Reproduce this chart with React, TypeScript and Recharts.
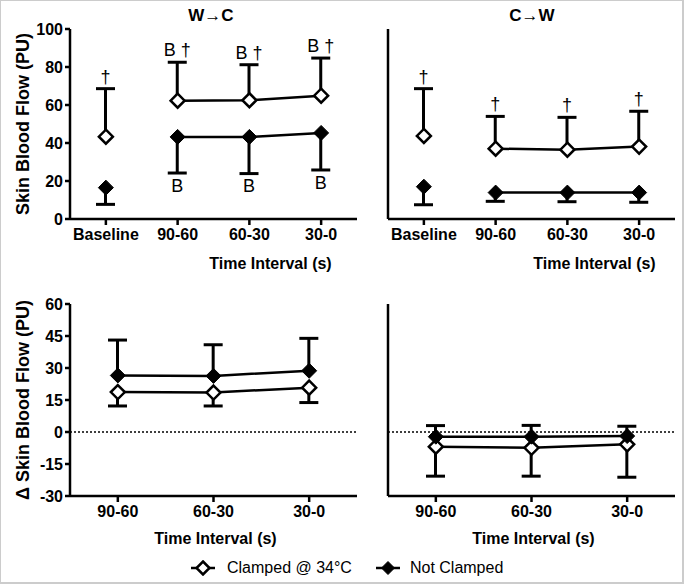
import { FC } from 'react'
import { Bar, ComposedChart, LabelList, Line, ReferenceLine, XAxis, YAxis } from 'recharts'

const topCategories = ['Baseline', '90-60', '60-30', '30-0']
const deltaCategories = ['90-60', '60-30', '30-0']

// W→C, skin blood flow (PU): means and one-sided SD
const wcClamped = [43.3, 62.3, 62.5, 64.9]
const wcClampedSd = [25.3, 20.2, 18.7, 19.8]
const wcNotClamped = [16.5, 43.2, 43.2, 45.3]
const wcNotClampedSd = [8.8, 19.0, 19.3, 19.5]
// non-breaking space keeps "B †" on one line
const wcClampedMarks = ['†', 'B\u00a0†', 'B\u00a0†', 'B\u00a0†']
const wcNotClampedMarks = ['', 'B', 'B', 'B']

// C→W
const cwClamped = [43.7, 37.0, 36.5, 38.1]
const cwClampedSd = [24.9, 17.0, 17.0, 18.6]
const cwNotClamped = [17.0, 13.9, 13.9, 13.9]
const cwNotClampedSd = [9.5, 4.6, 4.8, 5.1]
const cwClampedMarks = ['†', '†', '†', '†']
const cwNotClampedMarks = ['', '', '', '']

// change from baseline (PU)
const dWcClamped = [18.7, 18.5, 20.8]
const dWcClampedSd = [6.5, 6.3, 7.0]
const dWcNotClamped = [26.5, 26.3, 28.7]
const dWcNotClampedSd = [16.6, 14.6, 15.2]
const dCwClamped = [-6.9, -7.4, -5.8]
const dCwClampedSd = [13.8, 13.3, 15.4]
const dCwNotClamped = [-2.2, -2.2, -1.9]
const dCwNotClampedSd = [5.2, 5.3, 4.6]

const topTicks = [0, 20, 40, 60, 80, 100]
const deltaTicks = [-30, -15, 0, 15, 30, 45, 60]

const FONT = '"Liberation Sans", Arial, sans-serif'

interface Row {
    label: string
    clamped: number
    notClamped: number
    clampedLink: number | null
    notLink: number | null
    clampedErr: number[]
    notErr: number[]
    clampedMark: string
    notMark: string
}

const buildRows = (
    cats: string[],
    clamped: number[], clampedSd: number[], clampedUp: boolean,
    notC: number[], notSd: number[], notUp: boolean,
    hasBaseline: boolean,
    clampedMarks: string[] = [], notMarks: string[] = []
): Row[] =>
    cats.map((label, i) => ({
        label,
        clamped: clamped[i],
        notClamped: notC[i],
        clampedLink: hasBaseline && i === 0 ? null : clamped[i],
        notLink: hasBaseline && i === 0 ? null : notC[i],
        clampedErr: clampedUp ? [clamped[i], clamped[i] + clampedSd[i]] : [clamped[i] - clampedSd[i], clamped[i]],
        notErr: notUp ? [notC[i], notC[i] + notSd[i]] : [notC[i] - notSd[i], notC[i]],
        clampedMark: clampedMarks[i] ?? '',
        notMark: notMarks[i] ?? '',
    }))

const wcRows = buildRows(topCategories, wcClamped, wcClampedSd, true, wcNotClamped, wcNotClampedSd, false, true, wcClampedMarks, wcNotClampedMarks)
const cwRows = buildRows(topCategories, cwClamped, cwClampedSd, true, cwNotClamped, cwNotClampedSd, false, true, cwClampedMarks, cwNotClampedMarks)
const dWcRows = buildRows(deltaCategories, dWcClamped, dWcClampedSd, false, dWcNotClamped, dWcNotClampedSd, true, false)
const dCwRows = buildRows(deltaCategories, dCwClamped, dCwClampedSd, false, dCwNotClamped, dCwNotClampedSd, true, false)

// whisker drawn from the mean to one end, cap only at the far end
const errShape = (up: boolean) => (props: any) => {
    const { x, y, width, height } = props
    if (x == null || y == null) return <g />
    const top = Math.min(y, y + height)
    const bottom = Math.max(y, y + height)
    const cx = x + width / 2
    const capY = up ? top : bottom
    return (
        <g>
            <line x1={cx} x2={cx} y1={top} y2={bottom} stroke="#000" strokeWidth={3} />
            <line x1={x} x2={x + width} y1={capY} y2={capY} stroke="#000" strokeWidth={3} />
        </g>
    )
}

const diamond = (filled: boolean) => (props: any) => {
    const { cx, cy, index, value } = props
    if (cx == null || cy == null || value == null) return <g key={index} />
    const r = filled ? 7.5 : 7
    return (
        <path
            key={index}
            d={`M${cx},${cy - r} L${cx + r},${cy} L${cx},${cy + r} L${cx - r},${cy} Z`}
            fill={filled ? '#000' : '#fff'}
            stroke="#000"
            strokeWidth={filled ? 1 : 2.5}
        />
    )
}

interface PanelProps {
    rows: Row[]
    width: number
    height: number
    margin: { top: number; right: number; bottom: number; left: number }
    domain: number[]
    ticks: number[]
    yLabel?: string
    xTitleDx: number
    xTitleOffset: number
    clampedUp: boolean
    zeroLine?: boolean
}

const Panel: FC<PanelProps> = ({ rows, width, height, margin, domain, ticks, yLabel, xTitleDx, xTitleOffset, clampedUp, zeroLine }) => (
    <ComposedChart width={width} height={height} data={rows} margin={margin}>
        <XAxis
            dataKey="label"
            type="category"
            interval={0}
            height={55}
            tickSize={6}
            tickMargin={4}
            axisLine={{ stroke: '#000', strokeWidth: 2.5 }}
            tickLine={{ stroke: '#000', strokeWidth: 2.5 }}
            tick={{ fontSize: 16, fontWeight: 700, fill: '#000' }}
            label={{ value: 'Time Interval (s)', position: 'insideBottom', offset: xTitleOffset, dx: xTitleDx, fontSize: 16, fontWeight: 700, fill: '#000' }}
        />
        <XAxis xAxisId="e1" dataKey="label" type="category" hide />
        <XAxis xAxisId="e2" dataKey="label" type="category" hide />
        <YAxis
            type="number"
            domain={domain}
            ticks={ticks}
            interval={0}
            width={yLabel ? 62 : 48}
            tickSize={5}
            tickMargin={2}
            axisLine={{ stroke: '#000', strokeWidth: 2.5 }}
            tickLine={{ stroke: '#000', strokeWidth: 2.5 }}
            tick={yLabel ? { fontSize: 16, fontWeight: 700, fill: '#000' } : false}
            label={yLabel ? { value: yLabel, angle: -90, position: 'insideLeft', offset: 15, fontSize: 18, fontWeight: 700, fill: '#000', style: { textAnchor: 'middle' } } : undefined}
        />
        {zeroLine && <ReferenceLine y={0} stroke="#000" strokeWidth={1.5} strokeDasharray="2 2" />}
        <Bar xAxisId="e1" dataKey="clampedErr" barSize={19} shape={errShape(clampedUp)} isAnimationActive={false}>
            <LabelList dataKey="clampedMark" position={clampedUp ? 'top' : 'bottom'} offset={6} fill="#000" fontSize={18} fontFamily={FONT} />
        </Bar>
        <Bar xAxisId="e2" dataKey="notErr" barSize={19} shape={errShape(!clampedUp)} isAnimationActive={false}>
            <LabelList dataKey="notMark" position={clampedUp ? 'bottom' : 'top'} offset={6} fill="#000" fontSize={18} fontFamily={FONT} />
        </Bar>
        <Line dataKey="clampedLink" stroke="#000" strokeWidth={2.5} dot={false} activeDot={false} isAnimationActive={false} />
        <Line dataKey="notLink" stroke="#000" strokeWidth={2.5} dot={false} activeDot={false} isAnimationActive={false} />
        <Line dataKey="clamped" stroke="none" dot={diamond(false)} activeDot={false} isAnimationActive={false} />
        <Line dataKey="notClamped" stroke="none" dot={diamond(true)} activeDot={false} isAnimationActive={false} />
    </ComposedChart>
)

const LegendIcon: FC<{ filled: boolean }> = ({ filled }) => (
    <svg width={24} height={16} style={{ display: 'block' }}>
        <line x1={0} x2={24} y1={8} y2={8} stroke="#000" strokeWidth={2.5} />
        <path d="M12,1.5 L18.5,8 L12,14.5 L5.5,8 Z" fill={filled ? '#000' : '#fff'} stroke="#000" strokeWidth={filled ? 1 : 2.5} />
    </svg>
)

const abs = (left: number, top: number): React.CSSProperties => ({ position: 'absolute', left, top })

const App: FC = () => (
    <div style={{ position: 'absolute', left: 0, top: 0, width: 684, height: 584, background: '#cccccc', fontFamily: FONT }}>
        <div style={{ position: 'absolute', left: 1, top: 1, width: 681, height: 581, background: '#fff' }} />

        <div style={{ ...abs(161, 6), width: 100, textAlign: 'center', fontSize: 17, fontWeight: 700 }}>W→C</div>
        <div style={{ ...abs(482, 6), width: 100, textAlign: 'center', fontSize: 17, fontWeight: 700 }}>C→W</div>

        <div style={abs(0, 0)}>
            <Panel rows={wcRows} width={362} height={280} margin={{ top: 29, right: 5, bottom: 6, left: 8 }}
                domain={[0, 100]} ticks={topTicks} yLabel="Skin Blood Flow (PU)" xTitleDx={57} xTitleOffset={5} clampedUp />
        </div>
        <div style={abs(340, 0)}>
            <Panel rows={cwRows} width={340} height={280} margin={{ top: 29, right: 5, bottom: 6, left: 0 }}
                domain={[0, 100]} ticks={topTicks} xTitleDx={63} xTitleOffset={5} clampedUp />
        </div>
        <div style={abs(0, 270)}>
            <Panel rows={dWcRows} width={362} height={300} margin={{ top: 34, right: 5, bottom: 19, left: 8 }}
                domain={[-30, 60]} ticks={deltaTicks} yLabel="Δ Skin Blood Flow (PU)" xTitleDx={2} xTitleOffset={7} clampedUp={false} zeroLine />
        </div>
        <div style={abs(340, 270)}>
            <Panel rows={dCwRows} width={340} height={300} margin={{ top: 34, right: 5, bottom: 19, left: 0 }}
                domain={[-30, 60]} ticks={deltaTicks} xTitleDx={2} xTitleOffset={7} clampedUp={false} zeroLine />
        </div>

        <div style={{ ...abs(191, 559), display: 'flex', alignItems: 'center', fontSize: 16, color: '#000' }}>
            <LegendIcon filled={false} />
            <span style={{ marginLeft: 12 }}>Clamped @ 34°C</span>
            <span style={{ marginLeft: 24 }}><LegendIcon filled /></span>
            <span style={{ marginLeft: 10 }}>Not Clamped</span>
        </div>
    </div>
)

export default App
